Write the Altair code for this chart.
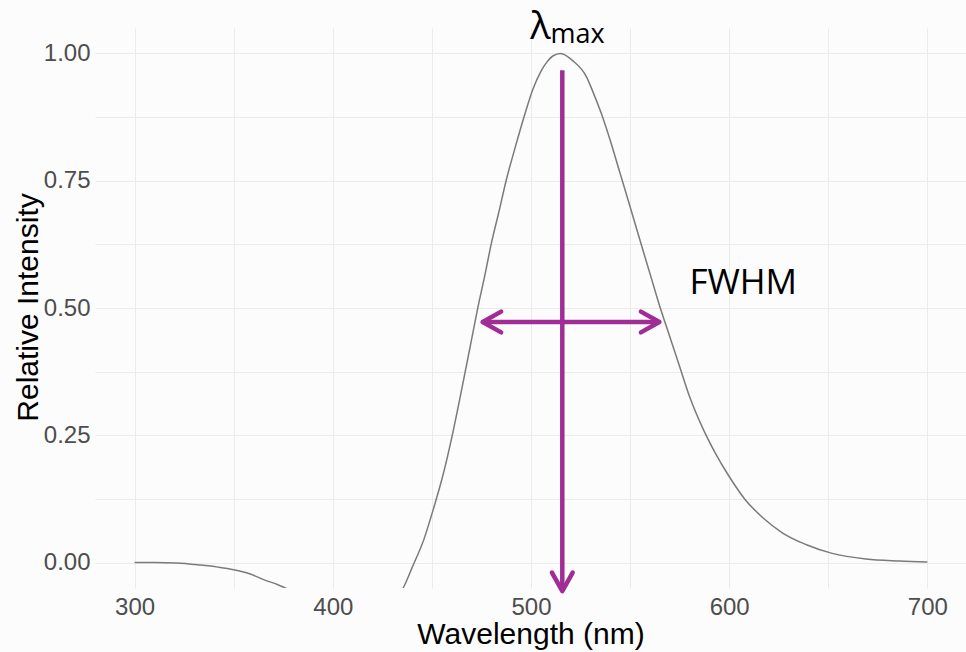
import altair as alt
import pandas as pd

# Spectrum (nm, relative intensity)
wavelength = [300, 310, 321, 333, 342, 350, 358, 366, 372, 376, 380, 390, 400, 410,
              418, 424, 430, 436, 440, 446, 450.5, 455, 460, 464, 469, 474, 476.5,
              480, 484, 487.5, 492, 497, 501, 505, 508, 511, 515, 521, 528, 531,
              535.5, 540, 545, 550, 555, 560, 565, 570, 575, 580, 587, 593, 600,
              608, 617, 627, 639, 652, 669, 686, 700]
intensity = [0.000, 0.000, -0.001, -0.005, -0.009, -0.014, -0.022, -0.035, -0.043,
             -0.050, -0.057, -0.075, -0.094, -0.107, -0.110, -0.103, -0.082, -0.046,
             -0.010, 0.046, 0.102, 0.163, 0.245, 0.320, 0.418, 0.516, 0.560, 0.627,
             0.692, 0.751, 0.815, 0.882, 0.930, 0.965, 0.983, 0.995, 1.000, 0.986,
             0.954, 0.927, 0.882, 0.829, 0.764, 0.699, 0.633, 0.568, 0.503, 0.444,
             0.385, 0.326, 0.261, 0.215, 0.169, 0.124, 0.088, 0.058, 0.035, 0.018,
             0.007, 0.003, 0.001]

x_ticks = [300, 350, 400, 450, 500, 550, 600, 650, 700]
y_ticks = [0, 0.125, 0.25, 0.375, 0.5, 0.625, 0.75, 0.875, 1.0]

# Annotation anchors (data coordinates)
lambda_max = 515.8
vert_top = 0.967
vert_tip = -0.056
fwhm_left = 475.6
fwhm_right = 564.8
fwhm_level = 0.4725

purple = "#A02C96"

df = pd.DataFrame({"wl": wavelength, "I": intensity})

xscale = alt.Scale(domain=[280, 719.5], nice=False, zero=False)
yscale = alt.Scale(domain=[-0.05, 1.05], nice=False, zero=False)

x_axis = alt.Axis(values=x_ticks, grid=True,
                  labelExpr="datum.value % 100 == 0 ? datum.label : ''",
                  title="Wavelength (nm)", labelPadding=7,
                  titleY=55, titleBaseline="alphabetic", labelFlush=False,
                  labelOverlap=False)
y_axis = alt.Axis(values=y_ticks, grid=True,
                  labelExpr="(datum.value * 4) % 1 == 0 ? format(datum.value, '.2f') : ''",
                  title="Relative Intensity", labelPadding=5,
                  titleX=-58, titleY=279, titleAngle=270, titleAlign="center",
                  titleBaseline="alphabetic", labelOverlap=False, labelFlush=False)

line = alt.Chart(df).mark_line(color="#7A7A7A", strokeWidth=1.5, clip=True,
                               interpolate="monotone").encode(
    x=alt.X("wl:Q", scale=xscale, axis=x_axis),
    y=alt.Y("I:Q", scale=yscale, axis=y_axis),
)

rules_df = pd.DataFrame({
    "wl": [lambda_max, fwhm_left],
    "wl2": [lambda_max, fwhm_right],
    "I": [vert_top, fwhm_level],
    "I2": [vert_tip, fwhm_level],
})
rules = alt.Chart(rules_df).mark_rule(color=purple, strokeWidth=4.5, strokeCap="butt").encode(
    x=alt.X("wl:Q", scale=xscale),
    x2="wl2:Q",
    y=alt.Y("I:Q", scale=yscale),
    y2="I2:Q",
)

heads_df = pd.DataFrame({
    "wl": [lambda_max, fwhm_left, fwhm_right],
    "I": [vert_tip, fwhm_level, fwhm_level],
    "ang": [90, 180, 0],
})
heads = alt.Chart(heads_df).mark_point(
    shape="M -1,-0.56 L 0,0 L -1,0.56", filled=False, size=1369,
    strokeWidth=4.5, color=purple, opacity=1, strokeCap="round", strokeJoin="round",
).encode(
    x=alt.X("wl:Q", scale=xscale),
    y=alt.Y("I:Q", scale=yscale),
    angle=alt.Angle("ang:Q", scale=None),
)

lam = alt.Chart(pd.DataFrame({"wl": [504.8], "I": [1.029], "t": ["λ"]})).mark_text(
    font="Open Sans", fontSize=38, align="center", baseline="alphabetic", color="black"
).encode(x=alt.X("wl:Q", scale=xscale), y=alt.Y("I:Q", scale=yscale), text="t:N")

sub = alt.Chart(pd.DataFrame({"wl": [509.8], "I": [1.0196], "t": ["max"]})).mark_text(
    font="Open Sans", fontSize=27, align="left", baseline="alphabetic", color="black"
).encode(x=alt.X("wl:Q", scale=xscale), y=alt.Y("I:Q", scale=yscale), text="t:N")

fw = alt.Chart(pd.DataFrame({"wl": [607.1], "I": [0.527], "t": ["FWHM"]})).mark_text(
    font="Open Sans", fontSize=35, align="center", baseline="alphabetic", color="black"
).encode(x=alt.X("wl:Q", scale=xscale), y=alt.Y("I:Q", scale=yscale), text="t:N")

chart = alt.layer(line, rules, heads, lam, sub, fw).properties(
    width=871, height=560,
    autosize=alt.AutoSizeParams(type="none"),
    padding={"left": 95, "top": 28, "right": 0, "bottom": 64},
    background="#FCFCFC",
).configure_view(stroke=None).configure_axis(
    domain=False, ticks=False,
    gridColor="#EBEBEB", gridWidth=1,
    labelFont="Liberation Sans", labelFontSize=24, labelColor="#4D4D4D",
    titleFont="Liberation Sans", titleFontSize=30, titleFontWeight="normal",
    titleColor="black",
)

chart.save("out.html", embed_options={"renderer": "svg", "actions": False})
